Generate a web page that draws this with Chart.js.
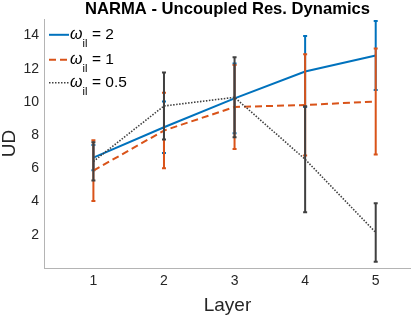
<!DOCTYPE html>
<html><head><meta charset="utf-8">
<script src="https://cdn.jsdelivr.net/npm/chart.js@4/dist/chart.umd.min.js"></script>
<style>html,body{margin:0;padding:0;background:#fff}#wrap{width:411px;height:319px}</style>
</head><body><div id="wrap"><canvas id="c" width="411" height="319"></canvas></div>
<script>
const layers = [1, 2, 3, 4, 5];
const omegaLabels = ['2', '1', '0.5'];
const ud_w2  = [6.65, 8.48, 10.22, 11.84, 12.80];
const err_w2 = [0.76, 1.55, 2.10, 2.14, 2.08];
const ud_w1  = [5.87, 8.28, 9.70, 9.82, 10.03];
const err_w1 = [1.83, 2.27, 2.53, 3.05, 3.19];
const ud_w05  = [6.42, 9.76, 10.28, 6.55, 2.14];
const err_w05 = [1.15, 2.02, 2.41, 3.19, 1.76];
const xTicks = [1, 2, 3, 4, 5];
const yTicks = [2, 4, 6, 8, 10, 12, 14];
const titleText = 'NARMA - Uncoupled Res. Dynamics';

const FONT = 'Liberation Sans';
const COLORS = ['#0072BD', '#D95319', '#404040'];
const DASHES = [[], [7, 4], [1.5, 1.5]];

const errorBarPlugin = {
  id: 'errbars',
  beforeDatasetDraw(chart, args) {
    const ds = chart.data.datasets[args.index];
    if (!ds.errors) return;
    const y = chart.scales.y, ctx = chart.ctx;
    ctx.save();
    ctx.strokeStyle = ds.borderColor;
    ctx.lineWidth = 2;
    ctx.setLineDash([]);
    args.meta.data.forEach((pt, i) => {
      const v = ds.data[i].y, e = ds.errors[i];
      const t = y.getPixelForValue(v + e), b = y.getPixelForValue(v - e);
      ctx.beginPath();
      ctx.moveTo(pt.x, t); ctx.lineTo(pt.x, b);
      ctx.moveTo(pt.x - 2, t); ctx.lineTo(pt.x + 2, t);
      ctx.moveTo(pt.x - 2, b); ctx.lineTo(pt.x + 2, b);
      ctx.stroke();
    });
    ctx.restore();
  }
};

const legendTitlePlugin = {
  id: 'omegaLegend',
  afterDraw(chart) {
    const ctx = chart.ctx, a = chart.chartArea;
    // title centred over the plot area
    ctx.save();
    ctx.fillStyle = '#000';
    ctx.font = 'bold 16.6px ' + FONT;
    ctx.textAlign = 'center';
    ctx.textBaseline = 'alphabetic';
    ctx.fillText(titleText, (a.left + a.right) / 2, 13.5);
    ctx.restore();

    const rows = [20.3, 45.3, 68.3];
    chart.data.datasets.forEach((ds, i) => {
      const base = a.top + rows[i];
      const x0 = a.left + 5;
      ctx.save();
      ctx.strokeStyle = ds.borderColor;
      ctx.lineWidth = ds.borderWidth;
      ctx.setLineDash(ds.borderDash || []);
      ctx.beginPath();
      ctx.moveTo(x0, base - 4.5); ctx.lineTo(x0 + 20, base - 4.5);
      ctx.stroke();
      ctx.setLineDash([]);
      ctx.fillStyle = '#000';
      ctx.textBaseline = 'alphabetic';
      ctx.textAlign = 'left';
      ctx.font = 'italic 16px ' + FONT;
      ctx.fillText('\u03c9', x0 + 21, base);
      const w = ctx.measureText('\u03c9').width;
      ctx.font = '11px ' + FONT;
      ctx.fillText('il', x0 + 21 + w, base + 7.4);
      ctx.font = '15.5px ' + FONT;
      ctx.fillText('= ' + omegaLabels[i], x0 + 43, base);
      ctx.restore();
    });
  }
};

function series(vals, errs, i) {
  return {
    label: 'omega_il = ' + omegaLabels[i],
    data: layers.map((x, k) => ({x: x, y: vals[k]})),
    errors: errs,
    borderColor: COLORS[i],
    borderWidth: i === 2 ? 1.6 : 2,
    borderDash: DASHES[i],
    pointRadius: 0,
    fill: false,
    tension: 0,
    order: 3 - i
  };
}

new Chart(document.getElementById('c'), {
  type: 'line',
  data: {
    datasets: [
      series(ud_w2, err_w2, 0),
      series(ud_w1, err_w1, 1),
      series(ud_w05, err_w05, 2)
    ]
  },
  plugins: [errorBarPlugin, legendTitlePlugin],
  options: {
    responsive: false,
    animation: false,
    devicePixelRatio: 1,
    layout: {padding: {left: 0, right: 0, top: 19, bottom: 0}},
    plugins: {
      legend: {display: false},
      tooltip: {enabled: false},
      title: {display: false}
    },
    scales: {
      x: {
        type: 'linear',
        min: 0.3, max: 5.5,
        afterBuildTicks: s => { s.ticks = xTicks.map(v => ({value: v})); },
        grid: {display: false, drawTicks: false},
        border: {display: true, color: '#b4b4b4', width: 1},
        ticks: {padding: 5, color: '#262626', font: {family: FONT, size: 14}},
        title: {display: true, text: 'Layer', color: '#262626',
                font: {family: FONT, size: 19, lineHeight: 1}, padding: {top: 0, bottom: 4}},
        afterFit: s => { s.height = 51; }
      },
      y: {
        min: 0, max: 15,
        afterBuildTicks: s => { s.ticks = yTicks.map(v => ({value: v})); },
        grid: {display: false, drawTicks: false},
        border: {display: true, color: '#b4b4b4', width: 1},
        ticks: {padding: 5, color: '#262626', font: {family: FONT, size: 14}},
        title: {display: true, text: 'UD', color: '#262626',
                font: {family: FONT, size: 19, lineHeight: 1}, padding: 0},
        afterFit: s => { s.width = 44; }
      }
    }
  }
});
</script>
</body></html>
